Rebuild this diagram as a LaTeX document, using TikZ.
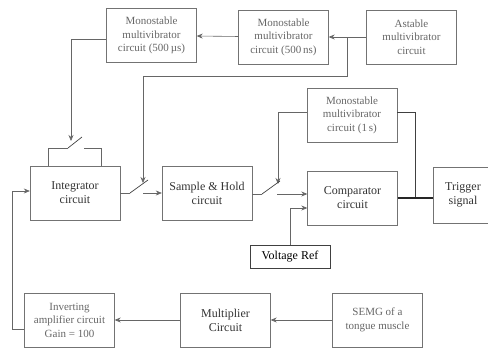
\documentclass[tikz,border=0pt]{standalone}
\usepackage{fontspec}
\setmainfont{Liberation Serif}
\usetikzlibrary{arrows.meta}
\tikzset{
    blk/.style={draw=black!55,text=black!80,minimum width=90pt,minimum height=54pt,
        inner sep=1pt,align=center,font=\fontsize{12}{14}\selectfont},
    sblk/.style={blk,text=black!60,font=\fontsize{11}{13.5}\selectfont},
    wire/.style={draw=black!60,line width=0.6pt},
    blade/.style={draw=black!75,line width=0.7pt},
    sigs/.style={
        every edge/.style={wire,-{Stealth[length=6pt,width=5pt]}},
    }
}

\begin{document}
\begin{tikzpicture}[x=1pt,y=-1pt,sigs]
\useasboundingbox (0,0) rectangle (488,348);
% timing chain
\node[sblk] (mA) at (151.5,35.5) {Monostable\\multivibrator\\circuit (500\,µs)};
\node[sblk] (mB) at (283.5,37) {Monostable\\multivibrator\\circuit (500\,ns)};
\node[sblk] (ast) at (411.5,37) {Astable\\multivibrator\\circuit};
\node[sblk] (mC) at (352,115) {Monostable\\multivibrator\\circuit (1\,s)};
% signal path
\node[blk] (integ) at (75,193) {Integrator\\circuit};
\node[blk] (sh) at (207,193) {Sample \& Hold\\circuit};
\node[blk] (comp) at (352.5,198) {Comparator\\circuit};
\node[blk,minimum width=60pt,minimum height=56pt] (trig) at (463,195) {Trigger\\signal};
\node[blk,minimum width=80pt,minimum height=23pt,draw=black!75,text=black] (vref) at (290,256.5) {Voltage Ref};
\node[sblk] (inv) at (69.5,320) {Inverting\\amplifier circuit\\Gain = 100};
\node[blk] (mult) at (225.5,320) {Multiplier\\Circuit};
\node[sblk] (semg) at (377.5,320) {SEMG of a\\tongue muscle};
% switches
\coordinate (s1a) at (68,148); \coordinate (s1b) at (82,137); \coordinate (s1c) at (84,148);
\coordinate (s2a) at (130,193); \coordinate (s2b) at (148,180); \coordinate (s2c) at (143,193);
\coordinate (s3a) at (262,194); \coordinate (s3b) at (280,181); \coordinate (s3c) at (277,194);
\coordinate (s1t) at (71,141); \coordinate (s2t) at (143,183); \coordinate (s3t) at (278,184);
\coordinate (tap) at (347,37); \coordinate (knot) at (415,198);

\path
    (ast) edge (mB)
    (mB) edge (mA)
    (tap) edge[to path={|- (143,76) -- (\tikztotarget)}] (s2t)
    ([yshift=-4pt]mA.west) edge[to path={-| (\tikztotarget)}] (s1t)
    ([yshift=3pt]mC.west) edge[to path={-| (\tikztotarget)}] (s3t)
    (s2c) edge (sh.west)
    (s3c) edge (comp.west|-s3c)
    (vref.north) edge[to path={|- (\tikztotarget)}] ([yshift=-10pt]comp.west)
    (semg) edge (mult)
    (mult) edge (inv)
    ([yshift=-9pt]inv.west) edge[to path={-- ++(-12,0) |- (\tikztotarget)}] ([yshift=2pt]integ.west)
;
\draw[wire] ([xshift=-27pt]integ.north) |- (s1a);
\draw[wire] (s1c) -| ([xshift=26pt]integ.north);
\draw[wire] (integ.east|-s2a) -- (s2a);
\draw[wire] (sh.east|-s3a) -- (s3a);
\draw[blade] (s1a) -- (s1b) (s2a) -- (s2b) (s3a) -- (s3b);
\draw[wire,draw=black!75] ([yshift=3pt]mC.east) -| (knot);
\draw[line width=1.1pt,black!85] (comp.east) -- (trig.west|-comp.east);
\end{tikzpicture}
\end{document}
